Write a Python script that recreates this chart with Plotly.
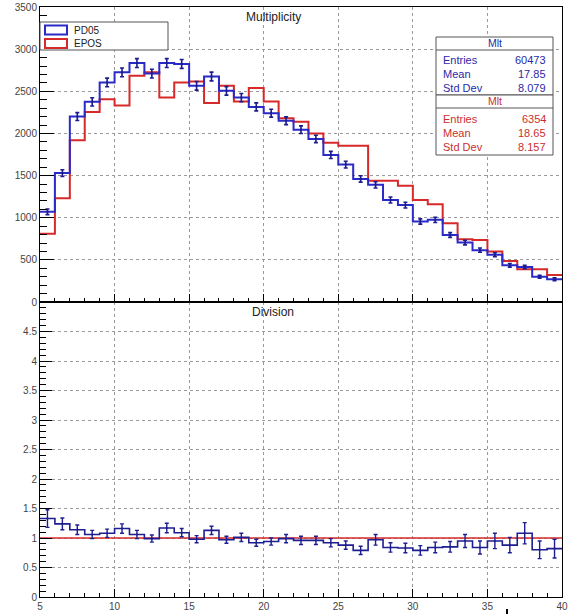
import plotly.graph_objects as go

# ---------------- data ----------------
bin_edges = list(range(5, 41))          # 35 bins of width 1, from 5 to 40
pd05 = [1070, 1530, 2200, 2375, 2605, 2725, 2835, 2710, 2835, 2825,
        2565, 2675, 2505, 2425, 2315, 2240, 2150, 2045, 1935, 1745,
        1630, 1460, 1390, 1210, 1150, 955, 975, 795, 705, 615,
        560, 435, 415, 300, 270]
pd05_err = [33, 39, 47, 49, 51, 52, 53, 52, 53, 53,
            51, 52, 50, 49, 48, 47, 46, 45, 44, 42,
            40, 38, 37, 35, 34, 31, 31, 28, 27, 25,
            24, 21, 20, 17, 16]
epos = [810, 1230, 1920, 2255, 2405, 2330, 2685, 2725, 2425, 2605,
        2615, 2360, 2565, 2380, 2540, 2380, 2180, 2140, 2000, 1890,
        1855, 1855, 1440, 1440, 1380, 1210, 1160, 935, 745, 735,
        600, 487, 390, 390, 320]
ratio = [1.33, 1.24, 1.14, 1.06, 1.08, 1.16, 1.06, 0.99, 1.17, 1.09,
         0.98, 1.13, 0.97, 1.01, 0.92, 0.94, 0.99, 0.96, 0.96, 0.92,
         0.88, 0.79, 0.97, 0.84, 0.83, 0.79, 0.84, 0.85, 0.95, 0.84,
         0.95, 0.88, 1.08, 0.80, 0.82]
ratio_err = [0.15, 0.10, 0.08, 0.07, 0.07, 0.08, 0.07, 0.06, 0.08, 0.07,
             0.06, 0.07, 0.06, 0.07, 0.06, 0.06, 0.07, 0.07, 0.07, 0.07,
             0.07, 0.07, 0.09, 0.08, 0.08, 0.08, 0.09, 0.09, 0.11, 0.11,
             0.13, 0.13, 0.18, 0.15, 0.16]
epos_ratio = [1.0] * 35

top_ticks = [0, 500, 1000, 1500, 2000, 2500, 3000, 3500]
bot_ticks = [0, 0.5, 1, 1.5, 2, 2.5, 3, 3.5, 4, 4.5]
bot_ticktext = ["0", "0.5", "1", "1.5", "2", "2.5", "3", "3.5", "4", "4.5"]
x_ticks = [5, 10, 15, 20, 25, 30, 35, 40]

stats_blue = [("Entries", "60473"), ("Mean", "17.85"), ("Std Dev", "8.079")]
stats_red = [("Entries", "6354"), ("Mean", "18.65"), ("Std Dev", "8.157")]

# ---------------- style ----------------
BLUE = "#2a2ac8"
BLUE_ERR = "#1c1c8c"
NAVY = "#1e1e90"
RED = "#d62a2a"
FONT = "Liberation Sans, Arial, sans-serif"

W, H = 568, 614
ML, MR, MT, MB = 40, 6, 7, 17
PW, PH = W - ML - MR, H - MT - MB


def px(x):
    return (x - ML) / PW


def py(y):
    return (H - MB - y) / PH


step_x = bin_edges
centers = [e + 0.5 for e in bin_edges[:-1]]


def step_y(v):
    return list(v) + [v[-1]]


fig = go.Figure()

# top panel
fig.add_trace(go.Scatter(x=step_x, y=step_y(epos), mode="lines", line_shape="hv",
                         line=dict(color=RED, width=2), xaxis="x2", yaxis="y2",
                         showlegend=False, hoverinfo="skip"))
fig.add_trace(go.Scatter(x=step_x, y=step_y(pd05), mode="lines", line_shape="hv",
                         line=dict(color=BLUE, width=2), xaxis="x2", yaxis="y2",
                         showlegend=False, hoverinfo="skip"))
fig.add_trace(go.Scatter(x=centers, y=pd05, mode="markers",
                         marker=dict(color=BLUE_ERR, size=2),
                         error_y=dict(type="data", array=pd05_err, color=BLUE_ERR,
                                      thickness=1.6, width=2),
                         xaxis="x2", yaxis="y2", showlegend=False))

# bottom panel
fig.add_trace(go.Scatter(x=step_x, y=step_y(epos_ratio), mode="lines", line_shape="hv",
                         line=dict(color=RED, width=1.6), xaxis="x", yaxis="y",
                         showlegend=False, hoverinfo="skip"))
fig.add_trace(go.Scatter(x=step_x, y=step_y(ratio), mode="lines", line_shape="hv",
                         line=dict(color=NAVY, width=1.6), xaxis="x", yaxis="y",
                         showlegend=False, hoverinfo="skip"))
fig.add_trace(go.Scatter(x=centers, y=ratio, mode="markers",
                         marker=dict(color=NAVY, size=2),
                         error_y=dict(type="data", array=ratio_err, color=NAVY,
                                      thickness=1.4, width=2),
                         xaxis="x", yaxis="y", showlegend=False))

grid = dict(showgrid=True, gridcolor="#9a9a9a", griddash="dot", gridwidth=1,
            zeroline=False, showline=True, linecolor="black", linewidth=1,
            mirror=True, ticks="inside", tickcolor="black", automargin=False)

fig.update_layout(
    width=W, height=H,
    margin=dict(l=ML, r=MR, t=MT, b=MB, autoexpand=False),
    paper_bgcolor="white", plot_bgcolor="white",
    font=dict(family=FONT, size=10, color="#333333"),
    xaxis=dict(domain=[0, 1], anchor="y", range=[5, 40], tickvals=x_ticks,
               ticklen=8, tickfont=dict(size=10, color="#444444"),
               minor=dict(dtick=1, ticklen=4, ticks="inside", tickcolor="black",
                          showgrid=False),
               **grid),
    yaxis=dict(domain=[0, 0.5], anchor="x", range=[0, 5], tickvals=bot_ticks,
               ticktext=bot_ticktext, ticklen=12, tickfont=dict(size=10, color="#444444"),
               minor=dict(dtick=0.1, ticklen=6, ticks="inside", tickcolor="black",
                          showgrid=False),
               **grid),
    xaxis2=dict(domain=[0, 1], anchor="y2", range=[5, 40], tickvals=x_ticks,
                showticklabels=False, ticklen=8,
                minor=dict(dtick=1, ticklen=4, ticks="inside", tickcolor="black",
                           showgrid=False),
                **grid),
    yaxis2=dict(domain=[0.5, 1], anchor="x2", range=[0, 3500], tickvals=top_ticks,
                ticklen=14, tickfont=dict(size=10, color="#444444"),
                minor=dict(dtick=100, ticklen=7, ticks="inside", tickcolor="black",
                           showgrid=False),
                **grid),
)

shapes = []
ann = []

# panel titles
ann.append(dict(x=px(273), y=py(17), xref="paper", yref="paper", text="Multiplicity",
                showarrow=False, font=dict(size=12, color="#222222"),
                xanchor="center", yanchor="middle"))
ann.append(dict(x=px(273), y=py(312), xref="paper", yref="paper", text="Division",
                showarrow=False, font=dict(size=12, color="#222222"),
                xanchor="center", yanchor="middle"))

# legend box
shapes.append(dict(type="rect", xref="paper", yref="paper", x0=px(40), x1=px(168),
                   y0=py(50), y1=py(22), line=dict(color="#555555", width=1),
                   fillcolor="white", layer="above"))
for (label, col, yc) in [("PD05", BLUE, 30), ("EPOS", RED, 43.5)]:
    shapes.append(dict(type="rect", xref="paper", yref="paper", x0=px(45), x1=px(67),
                       y0=py(yc + 4.5), y1=py(yc - 4.5), line=dict(color=col, width=2),
                       fillcolor="white", layer="above"))
    ann.append(dict(x=px(72), y=py(yc), xref="paper", yref="paper", text=label,
                    showarrow=False, font=dict(size=10, color="#222222"),
                    xanchor="left", yanchor="middle"))


def stats_box(top, bottom, header_y, sep_y, rows, row_ys, col):
    shapes.append(dict(type="rect", xref="paper", yref="paper", x0=px(436), x1=px(553),
                       y0=py(bottom), y1=py(top), line=dict(color="#555555", width=1),
                       fillcolor="white", layer="above"))
    shapes.append(dict(type="line", xref="paper", yref="paper", x0=px(436), x1=px(553),
                       y0=py(sep_y), y1=py(sep_y), line=dict(color="#555555", width=1),
                       layer="above"))
    ann.append(dict(x=px(494.5), y=py(header_y), xref="paper", yref="paper", text="Mlt",
                    showarrow=False, font=dict(size=10.5, color=col),
                    xanchor="center", yanchor="middle"))
    for (name, val), yy in zip(rows, row_ys):
        ann.append(dict(x=px(441), y=py(yy), xref="paper", yref="paper", text=name,
                        showarrow=False, font=dict(size=11, color=col),
                        xanchor="left", yanchor="middle"))
        ann.append(dict(x=px(548), y=py(yy), xref="paper", yref="paper", text=val,
                        showarrow=False, font=dict(size=11, color=col),
                        xanchor="right", yanchor="middle"))


stats_box(37, 95, 43, 50, stats_blue, [60, 74, 88], "#2a2aa8")
stats_box(95, 155, 101.5, 108, stats_red, [119, 133, 147], "#c83030")

# small cursor-like mark below the axis (present in the reference)
shapes.append(dict(type="line", xref="paper", yref="paper", x0=px(507), x1=px(507),
                   y0=py(609), y1=py(614), line=dict(color="black", width=2)))

fig.update_layout(shapes=shapes, annotations=ann)
fig.write_html("out.html",
               config={"displayModeBar": False},
               post_script="document.body.style.margin='0';document.body.style.padding='0';")
